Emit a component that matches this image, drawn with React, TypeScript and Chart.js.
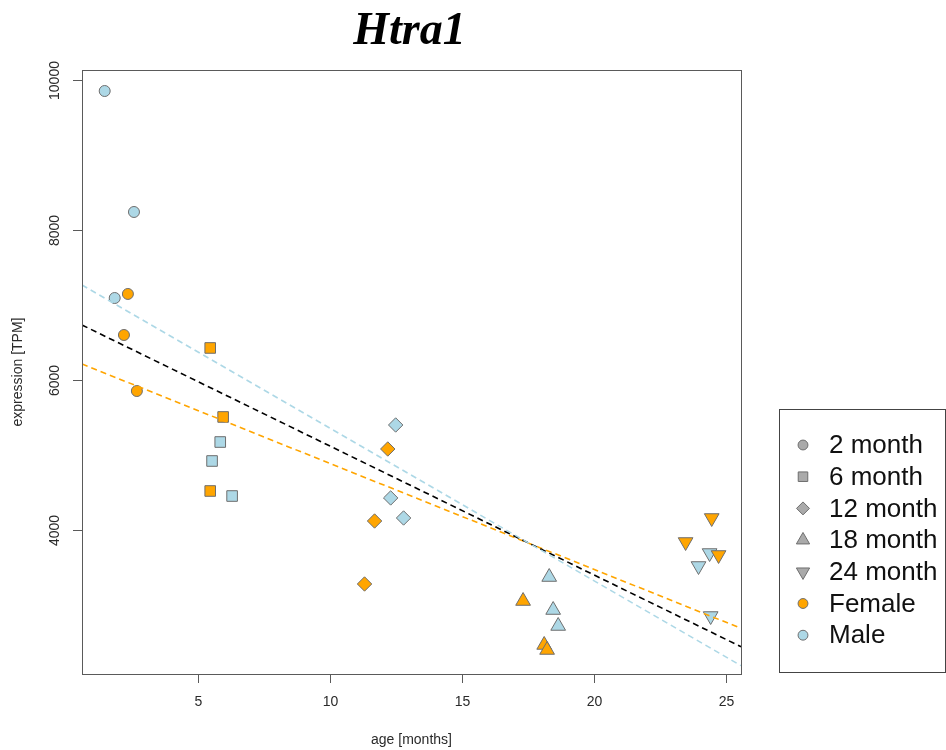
import React, { useEffect, useRef } from "react";
import { Chart, registerables } from "chart.js";
Chart.register(...registerables);

// ---- data (age in months, expression in TPM) ----
const female2x = [2.34, 2.19, 2.68];
const female2y = [7147, 6600, 5853];
const male2x = [1.46, 2.57, 1.84];
const male2y = [9853, 8240, 7093];

const female6x = [5.46, 5.95, 5.46];
const female6y = [6427, 5507, 4520];
const male6x = [5.84, 5.53, 6.29];
const male6y = [5173, 4920, 4453];

const female12x = [12.19, 11.69, 11.31];
const female12y = [5080, 4120, 3280];
const male12x = [12.49, 12.3, 12.79];
const male12y = [5400, 4427, 4160];

const female18x = [17.32, 18.12, 18.23];
const female18y = [3053, 2467, 2400];
const male18x = [18.31, 18.46, 18.65];
const male18y = [3373, 2933, 2720];

const female24x = [24.47, 23.48, 24.73];
const female24y = [4160, 3840, 3667];
const male24x = [24.39, 23.97, 24.43];
const male24y = [3693, 3520, 2853];

// regression lines: values at left and right limits of the x range
const xLimits = [0.6, 25.58];
const yLimits = [2080, 10133];
const fitAllY = [6733, 2444];
const fitMaleY = [7267, 2191];
const fitFemaleY = [6213, 2689];

const xTicks = [5, 10, 15, 20, 25];
const yTicks = [4000, 6000, 8000, 10000];
const legendLabels = ["2 month", "6 month", "12 month", "18 month", "24 month", "Female", "Male"];

const FEMALE = "#FFA500";
const MALE = "#ADD8E6";
const EDGE = "#6e6e6e";

const zip = (xs: number[], ys: number[]) => xs.map((x, i) => ({ x, y: ys[i] }));

type Shape = { style: string; radius: number; rotation: number };
const shapes: Shape[] = [
  { style: "circle", radius: 5.5, rotation: 0 },
  { style: "rect", radius: 7.5, rotation: 0 },
  { style: "rectRot", radius: 7.2, rotation: 0 },
  { style: "triangle", radius: 8.5, rotation: 0 },
  { style: "triangle", radius: 8.5, rotation: 180 },
];

const groups = [
  [female2x, female2y, male2x, male2y],
  [female6x, female6y, male6x, male6y],
  [female12x, female12y, male12x, male12y],
  [female18x, female18y, male18x, male18y],
  [female24x, female24y, male24x, male24y],
];

function drawShape(ctx: CanvasRenderingContext2D, s: Shape, x: number, y: number) {
  const r = s.radius;
  ctx.beginPath();
  if (s.style === "circle") {
    ctx.arc(x, y, r, 0, Math.PI * 2);
  } else if (s.style === "rect") {
    const h = Math.SQRT1_2 * r;
    ctx.rect(x - h, y - h, 2 * h, 2 * h);
  } else if (s.style === "rectRot") {
    ctx.moveTo(x, y - r);
    ctx.lineTo(x + r, y);
    ctx.lineTo(x, y + r);
    ctx.lineTo(x - r, y);
    ctx.closePath();
  } else {
    const dir = s.rotation === 180 ? -1 : 1;
    const w = (Math.sqrt(3) / 2) * r;
    ctx.moveTo(x, y - dir * r);
    ctx.lineTo(x + w, y + (dir * r) / 2);
    ctx.lineTo(x - w, y + (dir * r) / 2);
    ctx.closePath();
  }
  ctx.fill();
  ctx.stroke();
}

const decor = {
  id: "rdecor",
  afterDraw(chart: any) {
    const ctx = chart.ctx as CanvasRenderingContext2D;
    const a = chart.chartArea;
    const xs = chart.scales.x;
    const ys = chart.scales.y;
    ctx.save();
    // plot box
    ctx.strokeStyle = "#5a5a5a";
    ctx.lineWidth = 1;
    ctx.strokeRect(Math.round(a.left) + 0.5, Math.round(a.top) + 0.5, Math.round(a.right - a.left), Math.round(a.bottom - a.top));

    ctx.fillStyle = "#2a2a2a";
    ctx.font = '14px "Liberation Sans", Arial, sans-serif';
    ctx.textAlign = "center";
    ctx.textBaseline = "middle";
    // x ticks
    xTicks.forEach((v) => {
      const px = Math.round(xs.getPixelForValue(v)) + 0.5;
      ctx.beginPath();
      ctx.moveTo(px, a.bottom);
      ctx.lineTo(px, a.bottom + 9);
      ctx.stroke();
      ctx.fillText(String(v), px, a.bottom + 28);
    });
    // y ticks
    yTicks.forEach((v) => {
      const py = Math.round(ys.getPixelForValue(v)) + 0.5;
      ctx.beginPath();
      ctx.moveTo(a.left, py);
      ctx.lineTo(a.left - 9, py);
      ctx.stroke();
      ctx.save();
      ctx.translate(a.left - 27, py);
      ctx.rotate(-Math.PI / 2);
      ctx.fillText(String(v), 0, 0);
      ctx.restore();
    });
    // axis titles
    const cx = (a.left + a.right) / 2;
    const cy = (a.top + a.bottom) / 2;
    ctx.fillText("age [months]", cx, 740);
    ctx.save();
    ctx.translate(18, cy);
    ctx.rotate(-Math.PI / 2);
    ctx.fillText("expression [TPM]", 0, 0);
    ctx.restore();

    // title
    ctx.fillStyle = "#000";
    ctx.font = 'italic bold 46px "Liberation Serif", "Times New Roman", serif';
    ctx.textBaseline = "alphabetic";
    ctx.fillText("Htra1", cx - 2, 44);

    // legend
    const lx = 779.5, ly = 409.5, lw = 166, lh = 263;
    ctx.strokeStyle = "#444";
    ctx.strokeRect(lx, ly, lw, lh);
    ctx.font = '26px "Liberation Sans", Arial, sans-serif';
    ctx.textAlign = "left";
    ctx.textBaseline = "middle";
    legendLabels.forEach((lab, i) => {
      const y = 445 + i * 31.7;
      const sx = 803;
      let fill = "#AAAAAA";
      let shape = shapes[0];
      if (i < 5) shape = shapes[i];
      if (i === 5) fill = FEMALE;
      if (i === 6) fill = MALE;
      ctx.fillStyle = fill;
      ctx.strokeStyle = EDGE;
      ctx.lineWidth = 1;
      drawShape(ctx, { ...shape, radius: shape.radius * 0.9 }, sx, y);
      ctx.fillStyle = "#111";
      ctx.fillText(lab, 829, y + 1);
    });
    ctx.restore();
  },
};

export default function App() {
  const ref = useRef<HTMLCanvasElement>(null);
  useEffect(() => {
    document.body.style.margin = "0";
    const pointSets: any[] = [];
    groups.forEach((g, gi) => {
      const sh = shapes[gi];
      [
        [g[0], g[1], FEMALE],
        [g[2], g[3], MALE],
      ].forEach(([xs, ysv, col]: any) => {
        pointSets.push({
          type: "scatter",
          data: zip(xs, ysv),
          backgroundColor: col,
          borderColor: EDGE,
          borderWidth: 1,
          pointStyle: sh.style,
          pointRadius: sh.radius,
          rotation: sh.rotation,
          order: 2,
        });
      });
    });
    const lineSet = (ysv: number[], col: string) => ({
      type: "line",
      data: zip(xLimits, ysv),
      borderColor: col,
      borderWidth: 1.6,
      borderDash: [6, 4],
      pointRadius: 0,
      fill: false,
      order: 1,
    });
    const chart = new Chart(ref.current!, {
      type: "scatter",
      data: {
        datasets: [
          lineSet(fitMaleY, MALE),
          lineSet(fitAllY, "#000000"),
          lineSet(fitFemaleY, FEMALE),
          ...pointSets,
        ],
      } as any,
      options: {
        responsive: false,
        animation: false,
        devicePixelRatio: 1,
        layout: { padding: { left: 82, top: 70, right: 205, bottom: 76 } },
        plugins: { legend: { display: false }, tooltip: { enabled: false }, title: { display: false } },
        scales: {
          x: { type: "linear", min: xLimits[0], max: xLimits[1], display: false },
          y: { type: "linear", min: yLimits[0], max: yLimits[1], display: false },
        },
      } as any,
      plugins: [decor],
    });
    return () => chart.destroy();
  }, []);
  return (
    <div style={{ width: 946, height: 750, background: "#fff" }}>
      <canvas ref={ref} width={946} height={750} style={{ display: "block" }} />
    </div>
  );
}
